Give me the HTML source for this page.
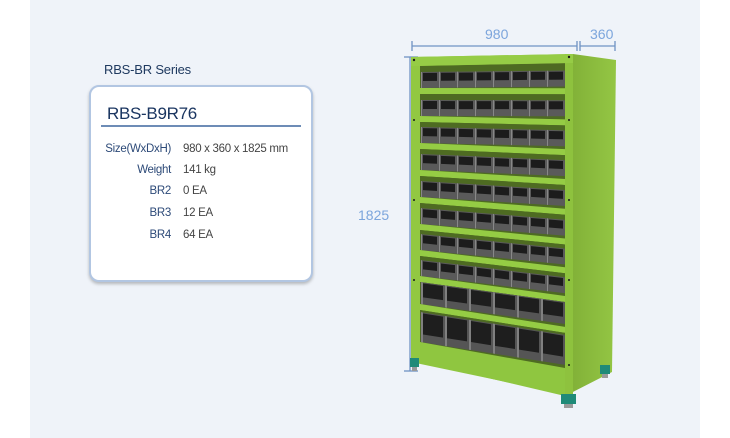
<!DOCTYPE html>
<html><head><meta charset="utf-8"><style>
html,body{margin:0;padding:0;background:#fff;}
body{width:730px;height:438px;position:relative;overflow:hidden;font-family:"Liberation Sans",sans-serif;}
.bg{position:absolute;left:30px;top:0;width:670px;height:438px;background:#eff3f9;}
.series{position:absolute;left:104px;top:62px;font-size:13px;color:#1f3a60;letter-spacing:-0.2px;}
.box{position:absolute;left:89px;top:85px;width:220px;height:193px;border:2px solid #b2c6e2;border-radius:10px;background:#fff;box-shadow:0 2px 3px rgba(0,0,0,0.25);}
.title{position:absolute;left:16px;top:17px;font-size:17px;color:#1a3560;letter-spacing:-0.3px;}
.rule{position:absolute;left:10px;top:38px;width:200px;height:2px;background:#6d8cb6;}
.row{position:absolute;font-size:11.5px;left:0;width:220px;height:16px;letter-spacing:-0.3px;}
.row .l{position:absolute;right:140px;color:#2d4a78;white-space:nowrap;}
.row .v{position:absolute;left:92px;color:#444;white-space:nowrap;}
svg{position:absolute;left:0;top:0;}
</style></head><body>
<div class="bg"></div>
<div class="series">RBS-BR Series</div>
<div class="box">
<div class="title">RBS-B9R76</div>
<div class="rule"></div>
<div class="row" style="top:56px"><span class="l">Size(WxDxH)</span><span class="v">980 x 360 x 1825 mm</span></div>
<div class="row" style="top:77px"><span class="l">Weight</span><span class="v">141 kg</span></div>
<div class="row" style="top:98px"><span class="l">BR2</span><span class="v">0 EA</span></div>
<div class="row" style="top:120px"><span class="l">BR3</span><span class="v">12 EA</span></div>
<div class="row" style="top:142px"><span class="l">BR4</span><span class="v">64 EA</span></div>
</div>
<svg width="730" height="438" viewBox="0 0 730 438">
<defs>
<linearGradient id="side" x1="0" x2="1"><stop offset="0" stop-color="#7fae36"/><stop offset="1" stop-color="#94c644"/></linearGradient>
<g id="sb"><rect x="0" y="0" width="18" height="16" fill="#5a5a5a"/><rect x="2" y="1" width="14" height="8" fill="#1c1c1c"/><rect x="0" y="0" width="1" height="16" fill="#888"/></g>
<g id="mb"><rect x="0" y="0" width="24" height="22" fill="#555"/><rect x="2" y="1" width="20" height="14" fill="#1e1e1e"/><rect x="0" y="0" width="2" height="22" fill="#808080"/></g>
<g id="lb"><rect x="0" y="0" width="24" height="30" fill="#555"/><rect x="2" y="1" width="20" height="21" fill="#1e1e1e"/><rect x="0" y="0" width="2" height="30" fill="#808080"/></g>
</defs>
<g stroke="#6f93c4" stroke-width="1.3" fill="none">
<line x1="412" y1="46" x2="577" y2="46"/><line x1="412" y1="41" x2="412" y2="51"/><line x1="577" y1="41" x2="577" y2="51"/>
<line x1="580" y1="46" x2="615" y2="46"/><line x1="580" y1="41" x2="580" y2="51"/><line x1="615" y1="41" x2="615" y2="51"/>
<line x1="410" y1="57" x2="410" y2="371"/><line x1="404" y1="57" x2="418" y2="57"/><line x1="404" y1="371" x2="418" y2="371"/>
</g>
<g fill="#7ca5dc" font-size="14" font-family="Liberation Sans,sans-serif">
<text x="485" y="39">980</text><text x="590" y="39">360</text><text x="358" y="220">1825</text>
</g>
<polygon points="573,54 616,60 612,372 565,396" fill="url(#side)"/>
<polygon points="411,57 573,54 573,396 411,362" fill="#8fc640"/>
<polygon points="420,66 565,63 565,383 420,350" fill="#4e6b22"/>
<g transform="matrix(1 -0.01 0 1 0 4.2)"><rect x="420" y="66" width="145" height="22" fill="#4e6b22"/>
<use href="#sb" x="421" y="72"/><use href="#sb" x="439" y="72"/><use href="#sb" x="457" y="72"/><use href="#sb" x="475" y="72"/><use href="#sb" x="493" y="72"/><use href="#sb" x="511" y="72"/><use href="#sb" x="529" y="72"/><use href="#sb" x="547" y="72"/></g>
<g transform="matrix(1 0.002 0 1 0 -0.84)"><rect x="420" y="88" width="145" height="6" fill="#95cc44"/><rect x="420" y="94" width="145" height="22" fill="#4e6b22"/>
<use href="#sb" x="421" y="100"/><use href="#sb" x="439" y="100"/><use href="#sb" x="457" y="100"/><use href="#sb" x="475" y="100"/><use href="#sb" x="493" y="100"/><use href="#sb" x="511" y="100"/><use href="#sb" x="529" y="100"/><use href="#sb" x="547" y="100"/></g>
<g transform="matrix(1 0.023 0 1 0 -9.66)"><rect x="420" y="116" width="145" height="6" fill="#95cc44"/><rect x="420" y="122" width="145" height="21" fill="#4e6b22"/>
<use href="#sb" x="421" y="127"/><use href="#sb" x="439" y="127"/><use href="#sb" x="457" y="127"/><use href="#sb" x="475" y="127"/><use href="#sb" x="493" y="127"/><use href="#sb" x="511" y="127"/><use href="#sb" x="529" y="127"/><use href="#sb" x="547" y="127"/></g>
<g transform="matrix(1 0.042 0 1 0 -17.64)"><rect x="420" y="143" width="145" height="6" fill="#95cc44"/><rect x="420" y="149" width="145" height="21" fill="#4e6b22"/>
<use href="#sb" x="421" y="154"/><use href="#sb" x="439" y="154"/><use href="#sb" x="457" y="154"/><use href="#sb" x="475" y="154"/><use href="#sb" x="493" y="154"/><use href="#sb" x="511" y="154"/><use href="#sb" x="529" y="154"/><use href="#sb" x="547" y="154"/></g>
<g transform="matrix(1 0.062 0 1 0 -26.04)"><rect x="420" y="170" width="145" height="6" fill="#95cc44"/><rect x="420" y="176" width="145" height="21" fill="#4e6b22"/>
<use href="#sb" x="421" y="181"/><use href="#sb" x="439" y="181"/><use href="#sb" x="457" y="181"/><use href="#sb" x="475" y="181"/><use href="#sb" x="493" y="181"/><use href="#sb" x="511" y="181"/><use href="#sb" x="529" y="181"/><use href="#sb" x="547" y="181"/></g>
<g transform="matrix(1 0.081 0 1 0 -34.02)"><rect x="420" y="197" width="145" height="6" fill="#95cc44"/><rect x="420" y="203" width="145" height="21" fill="#4e6b22"/>
<use href="#sb" x="421" y="208"/><use href="#sb" x="439" y="208"/><use href="#sb" x="457" y="208"/><use href="#sb" x="475" y="208"/><use href="#sb" x="493" y="208"/><use href="#sb" x="511" y="208"/><use href="#sb" x="529" y="208"/><use href="#sb" x="547" y="208"/></g>
<g transform="matrix(1 0.100 0 1 0 -42)"><rect x="420" y="224" width="145" height="6" fill="#95cc44"/><rect x="420" y="230" width="145" height="20" fill="#4e6b22"/>
<use href="#sb" x="421" y="234"/><use href="#sb" x="439" y="234"/><use href="#sb" x="457" y="234"/><use href="#sb" x="475" y="234"/><use href="#sb" x="493" y="234"/><use href="#sb" x="511" y="234"/><use href="#sb" x="529" y="234"/><use href="#sb" x="547" y="234"/></g>
<g transform="matrix(1 0.119 0 1 0 -49.98)"><rect x="420" y="250" width="145" height="6" fill="#95cc44"/><rect x="420" y="256" width="145" height="20" fill="#4e6b22"/>
<use href="#sb" x="421" y="260"/><use href="#sb" x="439" y="260"/><use href="#sb" x="457" y="260"/><use href="#sb" x="475" y="260"/><use href="#sb" x="493" y="260"/><use href="#sb" x="511" y="260"/><use href="#sb" x="529" y="260"/><use href="#sb" x="547" y="260"/></g>
<g transform="matrix(1 0.138 0 1 0 -57.96)"><rect x="420" y="276" width="145" height="6" fill="#95cc44"/><rect x="420" y="282" width="145" height="22" fill="#4e6b22"/>
<use href="#mb" x="421" y="282"/><use href="#mb" x="445" y="282"/><use href="#mb" x="469" y="282"/><use href="#mb" x="493" y="282"/><use href="#mb" x="517" y="282"/><use href="#mb" x="541" y="282"/></g>
<g transform="matrix(1 0.158 0 1 0 -66.36)"><rect x="420" y="304" width="145" height="6" fill="#95cc44"/><rect x="420" y="310" width="145" height="32" fill="#4e6b22"/>
<use href="#lb" x="421" y="312"/><use href="#lb" x="445" y="312"/><use href="#lb" x="469" y="312"/><use href="#lb" x="493" y="312"/><use href="#lb" x="517" y="312"/><use href="#lb" x="541" y="312"/></g>
<polygon points="420,342 565,368 565,396 420,362" fill="#8fc640"/>
<polygon points="411,57 420,57 420,363 411,362" fill="#92c842"/>
<polygon points="565,54 573,54 573,396 565,396" fill="#8ec23e"/>
<polygon points="411,57 573,54 573,63 411,66" fill="#96cc46"/>
<g fill="#1a1a1a"><circle cx="414" cy="60" r="1.2"/><circle cx="569" cy="57" r="1.2"/><circle cx="414" cy="120" r="1"/><circle cx="414" cy="200" r="1"/><circle cx="414" cy="280" r="1"/><circle cx="569" cy="120" r="1"/><circle cx="569" cy="200" r="1"/><circle cx="569" cy="280" r="1"/><circle cx="569" cy="365" r="1"/></g>
<rect x="410" y="358" width="9" height="9" fill="#1f8a78"/><rect x="412" y="367" width="5" height="4" fill="#999"/>
<rect x="561" y="394" width="15" height="10" fill="#1f8a78"/><rect x="564" y="404" width="9" height="4" fill="#999"/>
<rect x="600" y="365" width="10" height="9" fill="#1f8a78"/><rect x="602" y="374" width="6" height="4" fill="#999"/>
</svg>
</body></html>
